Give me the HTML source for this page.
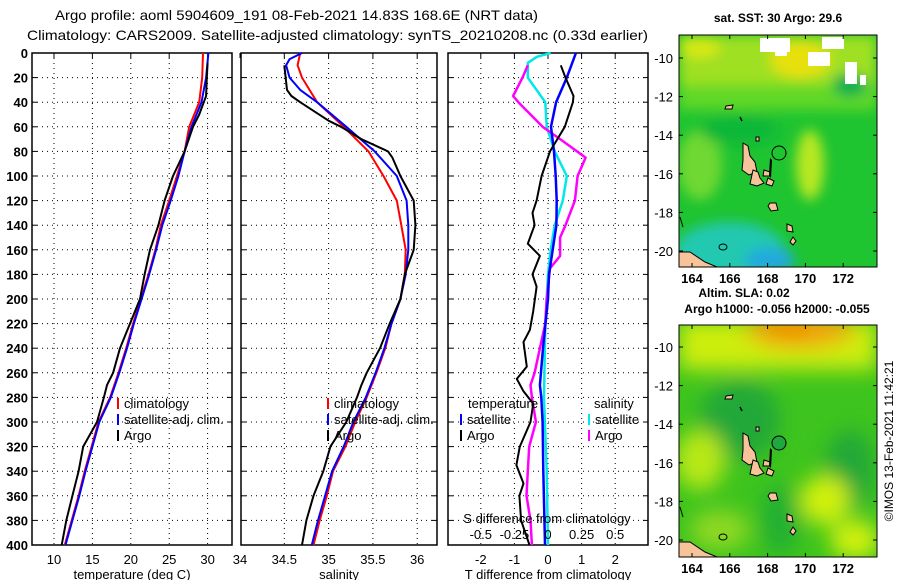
<!DOCTYPE html>
<html><head><meta charset="utf-8"><style>
html,body{margin:0;padding:0;background:#fff;}
svg{display:block;font-family:"Liberation Sans",sans-serif;}
text{fill:#000;}
</style></head><body>
<svg id="fig" width="900" height="580" viewBox="0 0 900 580">
<defs>
<filter id="blur6" x="-20%" y="-20%" width="140%" height="140%"><feGaussianBlur stdDeviation="6"/></filter>
<filter id="blur10" x="-30%" y="-30%" width="160%" height="160%"><feGaussianBlur stdDeviation="10"/></filter>
<clipPath id="clipMap1"><rect x="679" y="35" width="198" height="232"/></clipPath>
<clipPath id="clipMap2"><rect x="679" y="325" width="198" height="232"/></clipPath>
<g id="islands">
<path d="M743,143 L748,146 L750,156 L755,162 L757,172 L749,175 L742,170 L743,160 Z" fill="#f7c39a" stroke="#000" stroke-width="1"/>
<path d="M753,170 L758,172 L760,178 L764,183 L757,186 L750,184 Z" fill="#f7c39a" stroke="#000" stroke-width="1"/>
<path d="M764,170 L770,172 L770,176 L763,176 Z" fill="#f7c39a" stroke="#000" stroke-width="1"/>
<path d="M770,158 L772,160 L771,178 L769,176 Z" fill="#000"/>
<path d="M768,178 L774,181 L772,186 L766,184 Z" fill="#f7c39a" stroke="#000" stroke-width="1"/>
<path d="M770,203 L776,203 L778,210 L771,211 L768,206 Z" fill="#f7c39a" stroke="#000" stroke-width="1"/>
<path d="M787,224 L792,226 L793,232 L787,231 Z" fill="#f7c39a" stroke="#000" stroke-width="1"/>
<path d="M793,237 L796,241 L793,245 L790,242 Z" fill="#f7c39a" stroke="#000" stroke-width="1"/>
<path d="M679,252 L690,252 L705,262 L717,267 L679,267 Z" fill="#f7c39a" stroke="#000" stroke-width="1"/>
<path d="M756,137 L759,137 L759,141 L756,141 Z" fill="#f7c39a" stroke="#000" stroke-width="1"/>
<path d="M726,106 L733,105 L732,109 L725,109 Z" fill="#f7c39a" stroke="#000" stroke-width="1"/>
<ellipse cx="723" cy="247" rx="4" ry="3" fill="none" stroke="#000" stroke-width="1"/>
<path d="M740,117 L742,121" stroke="#000" stroke-width="1.5"/>
<path d="M680,217 L683,227" stroke="#000" stroke-width="1"/>
</g>
</defs>

<text x="55" y="20" font-size="14" textLength="483" lengthAdjust="spacingAndGlyphs">Argo profile: aoml 5904609_191 08-Feb-2021 14.83S 168.6E (NRT data)</text>
<text x="27" y="40" font-size="14" textLength="621" lengthAdjust="spacingAndGlyphs">Climatology: CARS2009. Satellite-adjusted climatology: synTS_20210208.nc (0.33d earlier)</text>

<g id="charts"></g>

<g>
<text x="778" y="22" font-size="12" font-weight="bold" text-anchor="middle">sat. SST: 30 Argo: 29.6</text>
<g clip-path="url(#clipMap1)">
<rect x="679" y="35" width="198" height="232" fill="#1fc431"/>
<g filter="url(#blur6)">
<rect x="679" y="35" width="198" height="55" fill="#9fe020"/>
<rect x="679" y="85" width="198" height="25" fill="#60d828"/>
<ellipse cx="800" cy="60" rx="30" ry="18" fill="#e8e010"/>
<ellipse cx="700" cy="48" rx="20" ry="10" fill="#d8e818"/>
<ellipse cx="810" cy="165" rx="14" ry="35" fill="#b8e820"/>
<ellipse cx="700" cy="165" rx="22" ry="35" fill="#70d830"/>
<ellipse cx="730" cy="250" rx="55" ry="28" fill="#22c8b0"/>
<ellipse cx="770" cy="260" rx="25" ry="12" fill="#20a8e0"/>
<ellipse cx="850" cy="85" rx="18" ry="12" fill="#10b050"/>
<ellipse cx="740" cy="130" rx="40" ry="15" fill="#10b838"/>
</g>
<rect x="760" y="38" width="30" height="14" fill="#fff"/>
<rect x="775" y="46" width="12" height="10" fill="#fff"/>
<rect x="808" y="52" width="22" height="14" fill="#fff"/>
<rect x="822" y="37" width="22" height="12" fill="#fff"/>
<rect x="845" y="62" width="12" height="22" fill="#fff"/>
<rect x="860" y="75" width="6" height="10" fill="#fff"/>
<use href="#islands"/>
<circle cx="779" cy="153" r="7" fill="none" stroke="#000" stroke-width="1"/>
</g>
<rect x="679" y="35" width="198" height="232" fill="none" stroke="#000" stroke-width="1"/>
</g>
<g>
<text x="744" y="297" font-size="12" font-weight="bold" text-anchor="middle">Altim. SLA: 0.02</text>
<text x="777" y="313" font-size="12" font-weight="bold" text-anchor="middle">Argo h1000: -0.056 h2000: -0.055</text>
<g clip-path="url(#clipMap2)">
<rect x="679" y="325" width="198" height="232" fill="#3ec41e"/>
<g filter="url(#blur10)">
<rect x="679" y="320" width="198" height="50" fill="#cdee10"/>
<ellipse cx="800" cy="330" rx="55" ry="18" fill="#f0a808"/>
<ellipse cx="790" cy="330" rx="25" ry="10" fill="#f09000"/>
<ellipse cx="740" cy="420" rx="40" ry="40" fill="#22a838"/>
<ellipse cx="850" cy="470" rx="25" ry="40" fill="#22a838"/>
<ellipse cx="700" cy="460" rx="25" ry="30" fill="#b8e818"/>
<ellipse cx="825" cy="500" rx="25" ry="25" fill="#d0f010"/>
<ellipse cx="855" cy="540" rx="25" ry="20" fill="#d0f010"/>
<ellipse cx="720" cy="530" rx="30" ry="20" fill="#8ed820"/>
<ellipse cx="780" cy="520" rx="20" ry="35" fill="#20b030"/>
</g>
<use href="#islands" transform="translate(0,290)"/>
<circle cx="779" cy="443" r="7" fill="#20a840" stroke="#000" stroke-width="1"/>
</g>
<rect x="679" y="325" width="198" height="232" fill="none" stroke="#000" stroke-width="1"/>
</g>
<text transform="translate(893,441) rotate(-90)" font-size="12" text-anchor="middle">©IMOS 13-Feb-2021 11:42:21</text>
<g id="mapaxes"></g>
</svg>
<script>
// ---- data ----
const depthTClim = [0,20,40,60,80,100,120,140,160,180,200,220,240,260,280,300,320,340,360,380,400];
const tempClim   = [29.4,29.3,28.9,27.6,27.0,26.0,25.0,23.9,23.2,22.3,21.3,20.3,19.4,18.4,17.3,15.8,14.9,14.0,13.2,12.3,11.4];
const depthTSat  = [0,20,40,60,80,100,120,140,160,180,200,220,240,260,280,300,320,340,360,380,400];
const tempSat    = [30.1,29.8,29.2,27.9,27.0,26.2,25.2,24.1,23.3,22.4,21.4,20.4,19.5,18.5,17.4,15.9,15.0,14.1,13.3,12.4,11.5];
const depthTArgo = [8,20,35,40,50,60,80,100,120,140,160,180,200,220,240,260,270,280,300,320,340,360,380,400];
const tempArgo   = [30.0,29.9,29.8,29.5,28.9,28.1,27.0,25.5,24.4,23.6,22.5,21.8,21.2,19.9,18.6,17.7,16.9,16.5,15.6,13.8,13.2,12.4,11.6,11.0];

const depthSClim = [0,10,20,40,60,80,100,120,140,160,180,200,220,240,260,280,300,320,340,360,380,400];
const salClim    = [34.68,34.65,34.70,34.87,35.17,35.45,35.62,35.77,35.82,35.87,35.86,35.81,35.71,35.64,35.54,35.43,35.30,35.19,35.05,34.98,34.90,34.83];
const depthSSat  = [0,5,10,20,30,40,60,80,100,120,140,160,180,200,220,240,260,280,300,320,340,360,380,400];
const salSat     = [34.70,34.56,34.52,34.56,34.68,34.87,35.20,35.52,35.77,35.88,35.90,35.90,35.87,35.81,35.71,35.63,35.53,35.42,35.28,35.17,35.04,34.96,34.88,34.81];
const depthSArgo = [10,30,35,40,55,60,70,80,85,100,120,140,160,180,200,220,240,260,270,280,300,320,340,360,380,400];
const salArgo    = [34.50,34.53,34.58,34.68,35.00,35.14,35.37,35.67,35.72,35.81,35.96,35.98,35.96,35.86,35.81,35.69,35.58,35.43,35.37,35.32,35.20,35.02,34.94,34.83,34.75,34.70];

const depthDT    = [0,20,40,60,80,100,120,140,160,180,200,240,270,280,300,340,400];
const dTSat      = [0.83,0.56,0.24,0.09,0.18,0.23,0.26,0.25,0.14,0.03,0.0,-0.15,-0.24,-0.2,-0.16,-0.14,-0.09];
const depthDTArgo= [10,20,35,40,60,80,100,120,130,140,155,165,180,190,210,225,235,255,265,275,285,300,320,335,350,360,380,400];
const dTArgo     = [0.38,0.52,0.76,0.74,0.5,0.06,-0.19,-0.34,-0.46,-0.4,-0.6,-0.24,-0.46,-0.34,-0.44,-0.54,-0.73,-0.63,-0.93,-0.73,-0.44,-0.52,-0.84,-0.94,-0.73,-0.85,-0.8,-0.55];
const depthDS    = [0,3,8,20,40,60,80,100,120,140,160,180,220,280,340,400];
const dSSat      = [0.02,-0.08,-0.15,-0.15,-0.02,-0.01,0.05,0.14,0.11,0.05,0.02,0.0,-0.02,-0.03,-0.01,0.0];
const depthDSArgo= [10,20,35,40,60,70,85,100,120,140,150,165,175,200,220,240,260,270,280,300,320,340,360,380,400];
const dSArgo     = [-0.15,-0.19,-0.26,-0.22,-0.04,0.09,0.28,0.22,0.20,0.13,0.09,0.09,0.015,-0.01,-0.02,-0.06,-0.1,-0.13,-0.12,-0.09,-0.14,-0.15,-0.16,-0.13,-0.12];

const depthTicks = [0,20,40,60,80,100,120,140,160,180,200,220,240,260,280,300,320,340,360,380,400];
const tempTicks  = [10,15,20,25,30];
const salTicks   = [34,34.5,35,35.5,36];
const salTickLabels = ['34','34.5','35','35.5','36'];
const dTTicks    = [-2,-1,0,1,2];
const dSTicks    = [-0.5,-0.25,0,0.25,0.5];
const dSTickLabels = ['-0.5','-0.25','0','0.25','0.5'];
const latTicks   = [-10,-12,-14,-16,-18,-20];
const lonTicks   = [164,166,168,170,172];

// ---- scales ----
const Y0=53, Y1=545;
const yD = d => Y0 + d*(Y1-Y0)/400;
const xT = t => 54 + (t-10)*7.68;
const xS = s => 240 + (s-34)*88.6;
const xDT = t => 548 + t*33.6;
const xDS = s => 548 + s*134.4;
const NS='http://www.w3.org/2000/svg';
const root=document.getElementById('charts');
function mk(tag,attrs,parent){const e=document.createElementNS(NS,tag);for(const k in attrs)e.setAttribute(k,attrs[k]);(parent||root).appendChild(e);return e;}

const panels=[
 {x0:32,x1:232,sx:xT,ticks:tempTicks,labels:tempTicks.map(String),title:'temperature (deg C)',name:'temperature-panel',ylab:true},
 {x0:241,x1:437,sx:xS,ticks:salTicks,labels:salTickLabels,title:'salinity',name:'salinity-panel'},
 {x0:448,x1:648,sx:xDT,ticks:dTTicks,labels:dTTicks.map(String),title:'T difference from climatology',name:'difference-panel'}
];
panels.forEach(p=>{
 const g=mk('g',{});
 
 
 depthTicks.forEach(d=>{
  const y=yD(d);
  const l=mk('line',{x1:p.x0,x2:p.x1,y1:y,y2:y,stroke:'#000','stroke-width':1,'stroke-dasharray':'1,4'},g);
  
  
  mk('line',{x1:p.x0,x2:p.x0+5,y1:y,y2:y,stroke:'#000'},g);
  mk('line',{x1:p.x1-5,x2:p.x1,y1:y,y2:y,stroke:'#000'},g);
  if(p.ylab){const t=mk('text',{x:28,y:y+5,'font-size':13,'font-weight':'bold','text-anchor':'end'},g);t.textContent=d;
   
   }
 });
 p.ticks.forEach((v,i)=>{
  const x=p.sx(v);
  if(x>p.x0+2){const l=mk('line',{x1:x,x2:x,y1:Y0,y2:Y1,stroke:'#000','stroke-dasharray':'1,4'},g);
   
   }
  mk('line',{x1:x,x2:x,y1:Y0,y2:Y0+5,stroke:'#000'},g);
  const t=mk('text',{x:x,y:564,'font-size':13,'text-anchor':'middle'},g);t.textContent=p.labels[i];
  
  
 });
 mk('rect',{x:p.x0,y:Y0,width:p.x1-p.x0,height:Y1-Y0,fill:'none',stroke:'#000','stroke-width':1.5},g);
 const tt=mk('text',{x:(p.x0+p.x1)/2,y:579,'font-size':13,'text-anchor':'middle'},g);tt.textContent=p.title;
 
 
});

function series(ds,vs,sx,color,w,name){
 const pts=ds.map((d,i)=>sx(vs[i]).toFixed(1)+','+yD(d).toFixed(1)).join(' ');
 const e=mk('polyline',{points:pts,fill:'none',stroke:color,'stroke-width':w,'stroke-linejoin':'round'});
 
 
}
series(depthTClim,tempClim,xT,'#f00',2,'temp-climatology-line');
series(depthTSat,tempSat,xT,'#00f',2,'temp-satellite-line');
series(depthTArgo,tempArgo,xT,'#000',2,'temp-argo-line');
series(depthSClim,salClim,xS,'#f00',2,'sal-climatology-line');
series(depthSSat,salSat,xS,'#00f',2,'sal-satellite-line');
series(depthSArgo,salArgo,xS,'#000',2,'sal-argo-line');
series(depthDS,dSSat,xDS,'#00e8e8',2.5,'sdiff-satellite-line');
series(depthDSArgo,dSArgo,xDS,'#f0f',2.5,'sdiff-argo-line');
series(depthDT,dTSat,xDT,'#00f',2.5,'tdiff-satellite-line');
series(depthDTArgo,dTArgo,xDT,'#000',2,'tdiff-argo-line');

function legend(x,y,color,label,name){
 const g=mk('g',{});
 
 
 if(color) mk('line',{x1:x,x2:x,y1:y-10,y2:y+1,stroke:color,'stroke-width':2},g);
 const t=mk('text',{x:x+6,y:y,'font-size':13},g);t.textContent=label;
}
legend(118,408,'#f00','climatology','legend-temp-climatology');
legend(118,424,'#00f','satellite-adj. clim.','legend-temp-satellite');
legend(118,440,'#000','Argo','legend-temp-argo');
legend(328,408,'#f00','climatology','legend-sal-climatology');
legend(328,424,'#00f','satellite-adj. clim.','legend-sal-satellite');
legend(328,440,'#000','Argo','legend-sal-argo');
legend(462,408,null,'temperature','legend-temperature-heading');
legend(461,424,'#00f','satellite','legend-tdiff-satellite');
legend(461,440,'#000','Argo','legend-tdiff-argo');
legend(588,408,null,'salinity','legend-salinity-heading');
legend(589,424,'#00e8e8','satellite','legend-sdiff-satellite');
legend(589,440,'#f0f','Argo','legend-sdiff-argo');
const st=mk('text',{x:547,y:523,'font-size':13,'text-anchor':'middle'});st.textContent='S difference from climatology';


dSTicks.forEach((v,i)=>{const t=mk('text',{x:xDS(v),y:539,'font-size':13,'text-anchor':'middle'});t.textContent=dSTickLabels[i];
 
 });

const ma=document.getElementById('mapaxes');
const mx = lon => 692 + (lon-164)*18.9;
[[35,58],[325,347]].forEach(([top,y10])=>{
 const bottom=top+232;
 latTicks.forEach(lat=>{
  const y=y10+(-10-lat)*19.3;
  mk('line',{x1:679,x2:683,y1:y,y2:y,stroke:'#000'},ma);
  mk('line',{x1:873,x2:877,y1:y,y2:y,stroke:'#000'},ma);
  const t=mk('text',{x:673,y:y+5,'font-size':13,'text-anchor':'end'},ma);t.textContent=lat;
  
  
 });
 lonTicks.forEach(lon=>{
  const x=mx(lon);
  mk('line',{x1:x,x2:x,y1:top,y2:top+4,stroke:'#000'},ma);
  mk('line',{x1:x,x2:x,y1:bottom-4,y2:bottom,stroke:'#000'},ma);
  const t=mk('text',{x:x,y:bottom+16,'font-size':13,'font-weight':'bold','text-anchor':'middle'},ma);t.textContent=lon;
  
  
 });
});
</script>
</body></html>
